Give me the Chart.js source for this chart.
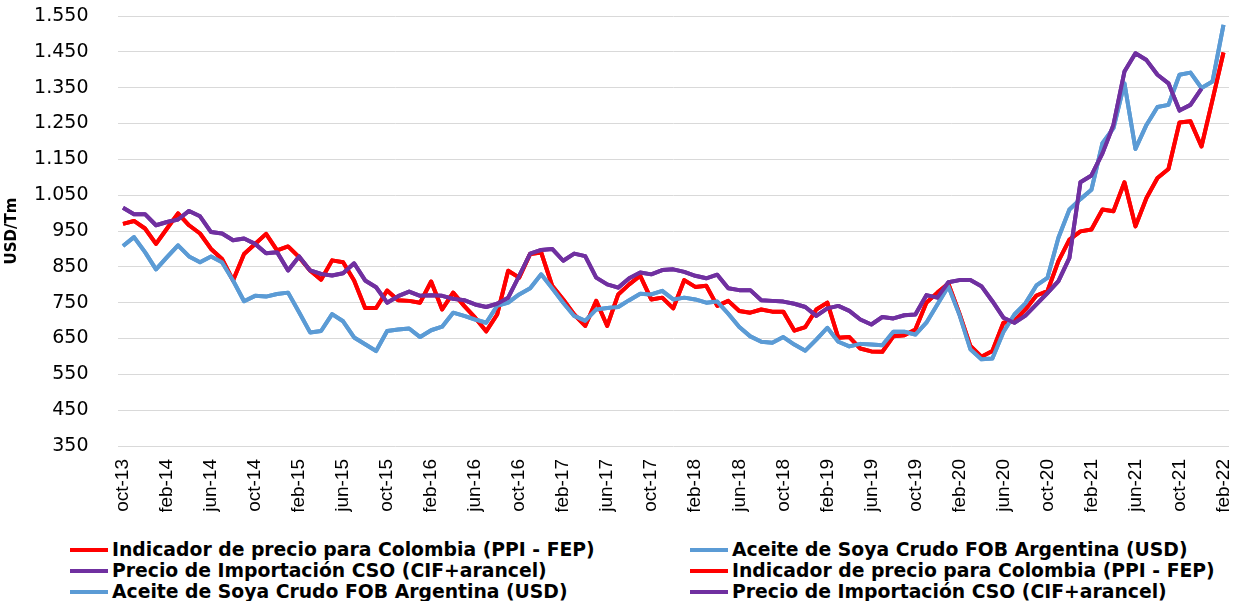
<!DOCTYPE html>
<html>
<head>
<meta charset="utf-8">
<script src="https://cdn.jsdelivr.net/npm/chart.js@4"></script>
<style>
  body { margin: 0; background: #fff; }
  #wrap { position: relative; width: 1234px; height: 601px; overflow: hidden; }
  #legend {
    position: absolute; left: 70px; top: 539px;
    display: grid; grid-template-columns: 620px 540px; grid-auto-rows: 21px;
    font: bold 18.8px 'DejaVu Sans', sans-serif; color: #000;
  }
  #legend .item { display: flex; align-items: center; white-space: nowrap; }
  #legend .swatch { width: 38px; height: 4px; margin-right: 4px; }
</style>
</head>
<body>
<div id="wrap">
  <canvas id="lineChart" width="1234" height="512"></canvas>
  <div id="legend"></div>
</div>
<script>
const labels = [
  'oct-13', 'nov-13', 'dic-13',
  'ene-14', 'feb-14', 'mar-14', 'abr-14', 'may-14', 'jun-14', 'jul-14', 'ago-14', 'sep-14', 'oct-14', 'nov-14', 'dic-14',
  'ene-15', 'feb-15', 'mar-15', 'abr-15', 'may-15', 'jun-15', 'jul-15', 'ago-15', 'sep-15', 'oct-15', 'nov-15', 'dic-15',
  'ene-16', 'feb-16', 'mar-16', 'abr-16', 'may-16', 'jun-16', 'jul-16', 'ago-16', 'sep-16', 'oct-16', 'nov-16', 'dic-16',
  'ene-17', 'feb-17', 'mar-17', 'abr-17', 'may-17', 'jun-17', 'jul-17', 'ago-17', 'sep-17', 'oct-17', 'nov-17', 'dic-17',
  'ene-18', 'feb-18', 'mar-18', 'abr-18', 'may-18', 'jun-18', 'jul-18', 'ago-18', 'sep-18', 'oct-18', 'nov-18', 'dic-18',
  'ene-19', 'feb-19', 'mar-19', 'abr-19', 'may-19', 'jun-19', 'jul-19', 'ago-19', 'sep-19', 'oct-19', 'nov-19', 'dic-19',
  'ene-20', 'feb-20', 'mar-20', 'abr-20', 'may-20', 'jun-20', 'jul-20', 'ago-20', 'sep-20', 'oct-20', 'nov-20', 'dic-20',
  'ene-21', 'feb-21', 'mar-21', 'abr-21', 'may-21', 'jun-21', 'jul-21', 'ago-21', 'sep-21', 'oct-21', 'nov-21', 'dic-21',
  'ene-22', 'feb-22'
];

// USD/Tm
const indicador = [
  970, 978, 957, 914, 957, 999, 966, 943, 900, 872, 812, 886, 914, 942, 896, 907, 877, 840, 814, 868, 863, 812, 735, 735, 784, 757,
  755, 750, 809, 731, 778, 741, 708, 670, 717, 839, 820, 886, 890, 797, 759, 717, 685, 755, 685, 773, 801, 825, 759, 764, 734,
  813, 794, 797, 741, 755, 727, 722, 731, 725, 725, 672, 682, 731, 750, 652, 654, 622, 614, 613, 656, 659, 675, 750, 778, 803,
  720, 629, 599, 615, 694, 699, 731, 770, 782, 866, 926, 949, 954, 1010, 1005, 1086, 963, 1042, 1098, 1123, 1253, 1256, 1186, 1316, 1448
];
const aceite = [
  908, 933, 891, 843, 877, 910, 879, 863, 879, 863, 812, 754, 769, 767, 774, 778, 723, 667, 671, 718, 698, 653, 634, 615, 671, 675,
  678, 654, 673, 683, 722, 713, 703, 694, 741, 750, 773, 790, 829, 790, 750, 713, 699, 731, 735, 738, 757, 775, 773, 783, 759,
  764, 759, 750, 753, 719, 682, 656, 641, 638, 654, 633, 616, 647, 680, 641, 628, 635, 633, 631, 669, 669, 661, 694, 745, 796,
  717, 620, 592, 594, 668, 717, 748, 798, 819, 931, 1010, 1039, 1065, 1195, 1237, 1362, 1179, 1246, 1296, 1302, 1386, 1392, 1349, 1367, 1525
];
const importacion = [
  1015, 997, 997, 966, 975, 982, 1006, 991, 947, 943, 924, 929, 914, 888, 891, 840, 879, 840, 830, 826, 832, 860, 812, 793, 750, 768,
  781, 769, 771, 769, 761, 757, 745, 738, 747, 764, 825, 887, 897, 900, 867, 887, 880, 820, 801, 792, 818, 834, 829, 841, 843,
  836, 825, 818, 828, 790, 785, 785, 757, 755, 753, 747, 738, 713, 734, 741, 727, 703, 689, 710, 706, 715, 717, 771, 764, 807,
  813, 813, 796, 754, 708, 694, 714, 745, 777, 810, 875, 1086, 1105, 1167, 1246, 1395, 1446, 1427, 1386, 1362, 1286, 1302, 1347, null, null
];

const nombres = {
  ppi: 'Indicador de precio para Colombia (PPI - FEP)',
  fob: 'Aceite de Soya Crudo FOB Argentina (USD)',
  cso: 'Precio de Importación CSO (CIF+arancel)'
};

function serie(label, data, color, order) {
  return {
    label: label,
    data: data,
    borderColor: color,
    backgroundColor: color,
    borderWidth: 4,
    pointRadius: 0,
    tension: 0,
    fill: false,
    borderJoinStyle: 'round',
    order: order
  };
}

// the source chart repeats each series once, so the legend has six entries
const datasets = [
  serie(nombres.ppi, indicador, '#FF0000', 2),
  serie(nombres.fob, aceite, '#5B9BD5', 1),
  serie(nombres.cso, importacion, '#7030A0', 0),
  serie(nombres.ppi, indicador, '#FF0000', 5),
  serie(nombres.fob, aceite, '#5B9BD5', 4),
  serie(nombres.cso, importacion, '#7030A0', 3)
];

const ctx = document.getElementById('lineChart').getContext('2d');

const lineChart = new Chart(ctx, {
  type: 'line',
  data: { labels: labels, datasets: datasets },
  options: {
    responsive: false,
    animation: false,
    layout: { padding: { top: 16, right: 5, left: 0, bottom: 0 } },
    plugins: {
      legend: { display: false },
      tooltip: { enabled: false }
    },
    scales: {
      x: {
        offset: true,
        grid: { display: false, drawTicks: false },
        border: { display: false },
        afterFit: function (scale) {
          scale.height = 66;
          scale.paddingLeft = 0;
          scale.paddingRight = 0;
        },
        ticks: {
          autoSkip: false,
          minRotation: 90,
          maxRotation: 90,
          padding: 13,
          color: '#000',
          font: { family: 'Liberation Sans', size: 19 },
          callback: function (value, index) {
            return index % 4 === 0 ? labels[index] : '';
          }
        }
      },
      y: {
        min: 350,
        max: 1550,
        grid: { color: '#d9d9d9', lineWidth: 1, drawTicks: false },
        border: { display: false },
        afterFit: function (scale) {
          scale.width = 117.5;
          scale.paddingTop = 0;
          scale.paddingBottom = 0;
        },
        ticks: {
          stepSize: 100,
          padding: 29,
          color: '#000',
          font: { family: 'DejaVu Sans', size: 19 },
          callback: function (value) {
            return value.toLocaleString('de-DE');
          }
        },
        title: {
          display: true,
          text: 'USD/Tm',
          color: '#000',
          padding: { top: 3, bottom: 0 },
          font: { family: 'DejaVu Sans', size: 15, weight: 'bold' }
        }
      }
    }
  }
});

// legend in two columns, same order as the source
const legendBox = document.getElementById('legend');
lineChart.data.datasets.forEach(function (ds) {
  const item = document.createElement('div');
  item.className = 'item';
  const sw = document.createElement('span');
  sw.className = 'swatch';
  sw.style.background = ds.borderColor;
  const txt = document.createElement('span');
  txt.textContent = ds.label;
  item.appendChild(sw);
  item.appendChild(txt);
  legendBox.appendChild(item);
});
</script>
</body>
</html>
